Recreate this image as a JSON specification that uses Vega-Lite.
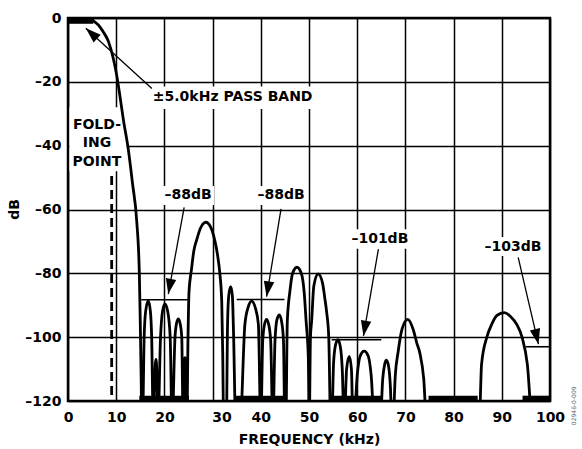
{
  "$schema": "https://vega.github.io/schema/vega-lite/v6.json",
  "width": 482,
  "height": 383,
  "autosize": {"type": "none"},
  "padding": {"left": 68, "top": 18, "right": 32, "bottom": 48},
  "background": "white",
  "config": {
    "font": "DejaVu Sans",
    "view": {"stroke": "black", "strokeWidth": 2.5}
  },
  "datasets": {
    "curve": [
      {"x":0,"y":0},{"x":4.5,"y":0},{"x":5.2,"y":-0.8},{"x":6.3,"y":-2.2},{"x":7.3,"y":-4.3},{"x":8.4,"y":-7.4},{"x":9.4,"y":-12.7},{"x":10.1,"y":-17.9},{"x":10.8,"y":-24.7},{"x":11.5,"y":-32},{"x":12.4,"y":-40},{"x":13.4,"y":-52},{"x":14.25,"y":-63.5},{"x":14.8,"y":-80},{"x":15.0,"y":-96},{"x":15.2,"y":-115},{"x":15.3,"y":-128},
      {"x":15.45,"y":-128},{"x":15.8,"y":-100},{"x":16.1,"y":-92},{"x":16.66,"y":-88.6},{"x":17.1,"y":-92},{"x":17.36,"y":-100},{"x":17.7,"y":-128},
      {"x":18.0,"y":-112},{"x":18.26,"y":-107},{"x":18.45,"y":-112},{"x":18.65,"y":-128},
      {"x":19.2,"y":-100},{"x":19.6,"y":-92},{"x":20.1,"y":-89.6},{"x":20.7,"y":-92},{"x":21.2,"y":-100},{"x":21.6,"y":-128},
      {"x":22.2,"y":-100},{"x":22.5,"y":-95.8},{"x":22.9,"y":-94.3},{"x":23.3,"y":-96},{"x":23.6,"y":-100},{"x":23.9,"y":-128},
      {"x":24.1,"y":-110},{"x":24.27,"y":-106.4},{"x":24.45,"y":-110},{"x":24.65,"y":-128},
      {"x":24.9,"y":-100},{"x":25.1,"y":-86},{"x":25.6,"y":-79},{"x":26.1,"y":-73},{"x":26.7,"y":-69.5},{"x":27.5,"y":-65.8},{"x":28.6,"y":-64},{"x":29.6,"y":-65.5},{"x":30.5,"y":-70},{"x":31.0,"y":-74},{"x":31.5,"y":-80},{"x":31.9,"y":-89},{"x":32.1,"y":-105},{"x":32.3,"y":-128},
      {"x":32.85,"y":-128},{"x":33.1,"y":-96},{"x":33.35,"y":-87},{"x":33.75,"y":-84.2},{"x":34.1,"y":-87},{"x":34.35,"y":-99},{"x":34.8,"y":-128},
      {"x":35.7,"y":-128},{"x":36.7,"y":-96},{"x":37.4,"y":-90.5},{"x":38.1,"y":-88.7},{"x":38.9,"y":-91},{"x":39.5,"y":-96},{"x":40.0,"y":-128},
      {"x":40.4,"y":-101},{"x":40.8,"y":-95.8},{"x":41.2,"y":-94.4},{"x":41.6,"y":-95.8},{"x":42.05,"y":-101},{"x":42.5,"y":-128},
      {"x":42.95,"y":-101},{"x":43.35,"y":-94.5},{"x":43.85,"y":-93},{"x":44.3,"y":-95},{"x":44.7,"y":-101},{"x":45.0,"y":-128},
      {"x":45.2,"y":-128},{"x":45.5,"y":-95},{"x":46.05,"y":-85.5},{"x":46.6,"y":-80},{"x":47.5,"y":-78.1},{"x":48.4,"y":-80},{"x":49.0,"y":-86},{"x":49.4,"y":-95},{"x":49.85,"y":-106},{"x":50.05,"y":-128},
      {"x":50.3,"y":-100},{"x":50.55,"y":-94.9},{"x":51.0,"y":-84},{"x":51.9,"y":-80.2},{"x":52.8,"y":-83},{"x":53.3,"y":-88},{"x":53.65,"y":-92},{"x":54.1,"y":-100},{"x":54.5,"y":-128},
      {"x":54.7,"y":-128},{"x":55.1,"y":-108},{"x":55.5,"y":-102.5},{"x":56.0,"y":-100.8},{"x":56.5,"y":-103},{"x":56.9,"y":-110},{"x":57.3,"y":-128},
      {"x":57.8,"y":-110},{"x":58.35,"y":-106},{"x":58.8,"y":-110},{"x":59.15,"y":-128},
      {"x":59.3,"y":-128},{"x":60.0,"y":-112},{"x":60.6,"y":-106},{"x":61.45,"y":-104.4},{"x":62.3,"y":-106},{"x":62.9,"y":-112},{"x":63.6,"y":-128},
      {"x":64.75,"y":-128},{"x":65.3,"y":-113},{"x":65.7,"y":-108.5},{"x":66.05,"y":-107.2},{"x":66.5,"y":-109},{"x":66.9,"y":-116},{"x":67.2,"y":-128},
      {"x":67.4,"y":-128},{"x":67.9,"y":-112},{"x":68.5,"y":-104.5},{"x":69.3,"y":-97.5},{"x":70.5,"y":-94.4},{"x":71.6,"y":-97.5},{"x":72.4,"y":-102},{"x":73.0,"y":-105},{"x":73.8,"y":-113},{"x":74.45,"y":-128},
      {"x":85.3,"y":-128},{"x":85.8,"y":-108.5},{"x":86.9,"y":-100},{"x":87.9,"y":-96},{"x":89.0,"y":-93.2},{"x":90.5,"y":-92.3},{"x":91.8,"y":-93.5},{"x":93.1,"y":-96},{"x":94.2,"y":-100},{"x":95.3,"y":-108.5},{"x":96.4,"y":-128},{"x":100,"y":-128}
    ],
    "boxes": [
      {"x":0.3,"x2":12.2,"y":-28,"y2":-48},
      {"x":17.0,"x2":50.8,"y":-21.5,"y2":-28.5},
      {"x":19.5,"x2":30.3,"y":-52.6,"y2":-58.6},
      {"x":38.6,"x2":49.8,"y":-52.6,"y2":-58.6},
      {"x":58.1,"x2":71.4,"y":-66.2,"y2":-72.3},
      {"x":85.7,"x2":99,"y":-68.6,"y2":-74.6}
    ],
    "bars": [
      {"x":0,"x2":5.25,"y":-0.95},
      {"x":14.8,"x2":25.1,"y":-119.2},
      {"x":34.5,"x2":45,"y":-119.2},
      {"x":54.5,"x2":65,"y":-119.2},
      {"x":74.8,"x2":85,"y":-119.2},
      {"x":94.3,"x2":100,"y":-119.2}
    ],
    "limits": [
      {"x":15.2,"x2":25,"y":-88.3},
      {"x":35,"x2":44.9,"y":-88.2},
      {"x":54.7,"x2":65,"y":-100.8},
      {"x":95,"x2":100,"y":-103}
    ],
    "fold": [{"x":9.06,"y":-49.5,"y2":-120}],
    "arrows": [
      {"x":17.4,"y":-22.1,"x2":3.7,"y2":-3.2},
      {"x":24.1,"y":-59.3,"x2":20.8,"y2":-86.5},
      {"x":44.2,"y":-59.8,"x2":41.2,"y2":-87.3},
      {"x":64.4,"y":-72.4,"x2":61.3,"y2":-99.6},
      {"x":93.4,"y":-75,"x2":97.6,"y2":-102.2}
    ],
    "labels": [
      {"x":24.9,"y":-55.6,"text":"–88dB"},
      {"x":44.2,"y":-55.6,"text":"–88dB"},
      {"x":64.7,"y":-69.2,"text":"–101dB"},
      {"x":92.3,"y":-71.6,"text":"–103dB"},
      {"x":6.0,"y":-33.6,"text":"FOLD-"},
      {"x":6.0,"y":-39.2,"text":"ING"},
      {"x":6.0,"y":-45.1,"text":"POINT"}
    ],
    "leftlabels": [
      {"x":17.6,"y":-24.7,"text":"±5.0kHz PASS BAND"}
    ],
    "side": [{"x":105,"y":-121.5,"text":"02946-0-009"}]
  },
  "layer": [
    {
      "data": {"name": "boxes"},
      "mark": {"type": "rect", "color": "white"},
      "encoding": {
        "x": {
          "field": "x", "type": "quantitative",
          "scale": {"domain": [0, 100], "nice": false, "zero": false},
          "axis": {
            "values": [0,5,10,15,20,25,30,35,40,45,50,55,60,65,70,75,80,85,90,95,100],
            "labelExpr": "datum.value % 10 == 0 ? '' + datum.value : ''",
            "grid": true, "gridColor": "black", "gridWidth": 1.5, "gridOpacity": 1,
            "ticks": false, "domain": false,
            "labelFont": "DejaVu Sans", "labelFontWeight": "bold", "labelFontSize": 14, "labelColor": "black",
            "labelPadding": 9, "labelFlush": false, "labelOverlap": false,
            "labelOffset": {"condition": {"test": "datum.value == 30", "value": 9}, "value": 0},
            "title": "FREQUENCY (kHz)", "titleFont": "DejaVu Sans", "titleFontSize": 14, "titleFontWeight": "bold", "titleColor": "black",
            "titleY": 42, "titleBaseline": "alphabetic"
          }
        },
        "x2": {"field": "x2"},
        "y": {
          "field": "y", "type": "quantitative",
          "scale": {"domain": [-120, 0], "nice": false, "zero": false},
          "axis": {
            "values": [-120,-110,-100,-90,-80,-70,-60,-50,-40,-30,-20,-10,0],
            "labelExpr": "datum.value % 20 == 0 ? (datum.value < 0 ? '–' + abs(datum.value) : '0') : ''",
            "grid": true, "gridColor": "black", "gridWidth": 1.5, "gridOpacity": 1,
            "ticks": false, "domain": false,
            "labelFont": "DejaVu Sans", "labelFontWeight": "bold", "labelFontSize": 14, "labelColor": "black",
            "labelPadding": 7, "labelOverlap": false, "labelFlush": false,
            "title": "dB", "titleFont": "DejaVu Sans", "titleFontSize": 14, "titleFontWeight": "bold", "titleColor": "black",
            "titleAngle": 270, "titleX": -54, "titleY": 191, "titleAlign": "center", "titleBaseline": "middle"
          }
        },
        "y2": {"field": "y2"}
      }
    },
    {
      "data": {"name": "bars"},
      "mark": {"type": "rule", "color": "black", "strokeWidth": 5.5, "strokeCap": "butt"},
      "encoding": {
        "x": {"field": "x", "type": "quantitative"},
        "x2": {"field": "x2"},
        "y": {"field": "y", "type": "quantitative"}
      }
    },
    {
      "data": {"name": "limits"},
      "mark": {"type": "rule", "color": "black", "strokeWidth": 1.6},
      "encoding": {
        "x": {"field": "x", "type": "quantitative"},
        "x2": {"field": "x2"},
        "y": {"field": "y", "type": "quantitative"}
      }
    },
    {
      "data": {"name": "fold"},
      "mark": {"type": "rule", "color": "black", "strokeWidth": 2.8, "strokeDash": [9, 5], "strokeCap": "butt"},
      "encoding": {
        "x": {"field": "x", "type": "quantitative"},
        "y": {"field": "y", "type": "quantitative"},
        "y2": {"field": "y2"}
      }
    },
    {
      "data": {"name": "curve"},
      "mark": {"type": "line", "color": "black", "strokeWidth": 2.8, "interpolate": "monotone", "clip": true, "strokeJoin": "round"},
      "encoding": {
        "x": {"field": "x", "type": "quantitative"},
        "y": {"field": "y", "type": "quantitative"}
      }
    },
    {
      "data": {"name": "arrows"},
      "mark": {"type": "rule", "color": "black", "strokeWidth": 1.3},
      "encoding": {
        "x": {"field": "x", "type": "quantitative"},
        "y": {"field": "y", "type": "quantitative"},
        "x2": {"field": "x2"},
        "y2": {"field": "y2"}
      }
    },
    {
      "data": {"name": "arrows"},
      "transform": [
        {"calculate": "atan2((datum.x2 - datum.x) * 4.82, (datum.y2 - datum.y) * 3.19) * 180 / PI", "as": "ang"}
      ],
      "mark": {"type": "point", "shape": "M0,0L-0.65,1.9L0.65,1.9Z", "filled": true, "color": "black", "opacity": 1, "size": 260},
      "encoding": {
        "x": {"field": "x2", "type": "quantitative"},
        "y": {"field": "y2", "type": "quantitative"},
        "angle": {"field": "ang", "type": "quantitative", "scale": null}
      }
    },
    {
      "data": {"name": "labels"},
      "mark": {"type": "text", "font": "DejaVu Sans", "fontWeight": "bold", "fontSize": 14, "color": "black", "align": "center", "baseline": "middle"},
      "encoding": {
        "x": {"field": "x", "type": "quantitative"},
        "y": {"field": "y", "type": "quantitative"},
        "text": {"field": "text"}
      }
    },
    {
      "data": {"name": "leftlabels"},
      "mark": {"type": "text", "font": "DejaVu Sans", "fontWeight": "bold", "fontSize": 14, "color": "black", "align": "left", "baseline": "middle"},
      "encoding": {
        "x": {"field": "x", "type": "quantitative"},
        "y": {"field": "y", "type": "quantitative"},
        "text": {"field": "text"}
      }
    },
    {
      "data": {"name": "side"},
      "mark": {"type": "text", "font": "DejaVu Sans", "fontSize": 6, "color": "#666666", "angle": 270, "align": "center", "baseline": "middle"},
      "encoding": {
        "x": {"field": "x", "type": "quantitative"},
        "y": {"field": "y", "type": "quantitative"},
        "text": {"field": "text"}
      }
    }
  ]
}
